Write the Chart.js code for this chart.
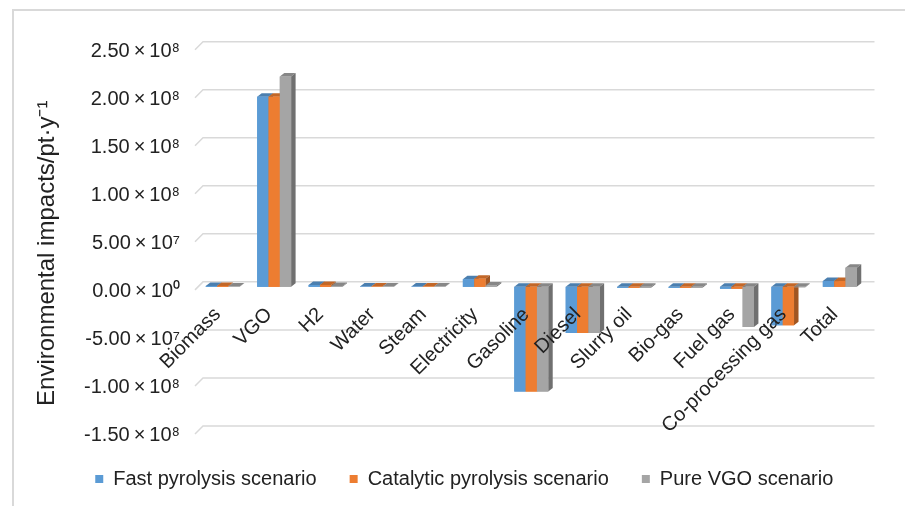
<!DOCTYPE html>
<html><head><meta charset="utf-8">
<script src="https://cdn.jsdelivr.net/npm/chart.js@4.4.1/dist/chart.umd.min.js"></script>
<style>html,body{margin:0;padding:0;background:#fff}canvas{display:block}</style>
</head><body>
<canvas id="c" width="905" height="506"></canvas>
<script>
const categories = ['Biomass','VGO','H2','Water','Steam','Electricity','Gasoline','Diesel','Slurry oil','Bio-gas','Fuel gas','Co-processing gas','Total'];
const fastPyrolysis      = [1.0e6, 1.98e8, 2.0e6, 5e5, 5e5, 8.0e6, -1.09e8, -4.8e7, -1.0e6, -1.0e6, -2.0e6, -4.0e7, 6.0e6];
const catalyticPyrolysis = [1.0e6, 1.98e8, 2.0e6, 5e5, 5e5, 8.5e6, -1.09e8, -4.8e7, -1.0e6, -1.0e6, -2.0e6, -4.0e7, 6.0e6];
const pureVGO            = [5e5, 2.19e8, 1.0e6, 5e5, 5e5, 1.5e6, -1.09e8, -4.8e7, -1.0e6, -1.0e6, -4.17e7, -5e5, 2.0e7];
const seriesNames = ['Fast pyrolysis scenario','Catalytic pyrolysis scenario','Pure VGO scenario'];
const seriesColors = ['#5b9bd5','#ed7d31','#a5a5a5'];
const yTickValues = [-1.5e8, -1.0e8, -5.0e7, 0, 5.0e7, 1.0e8, 1.5e8, 2.0e8, 2.5e8];
const yTitle = 'Environmental impacts/pt\u00b7y\u207b\u00b9';

const FONT = "'Liberation Sans', Arial, sans-serif";
const sup = {'0':'\u2070','1':'\u00b9','2':'\u00b2','3':'\u00b3','4':'\u2074','5':'\u2075','6':'\u2076','7':'\u2077','8':'\u2078','9':'\u2079','-':'\u207b'};
function sciLabel(v){
  if (Math.abs(v) < 1) return '0.00\u2009\u00d7\u200910' + sup['0'];
  const e = Math.floor(Math.log10(Math.abs(v)) + 1e-9);
  const m = v / Math.pow(10, e);
  return m.toFixed(2) + '\u2009\u00d7\u200910' + String(e).split('').map(c => sup[c]).join('');
}
function shade(hex, f){
  const n = parseInt(hex.slice(1), 16);
  const r = Math.round(((n >> 16) & 255) * f), g = Math.round(((n >> 8) & 255) * f), b = Math.round((n & 255) * f);
  return 'rgb(' + r + ',' + g + ',' + b + ')';
}

const look3d = {
  id: 'look3d',
  beforeDraw(chart){
    const ctx = chart.ctx;
    ctx.save();
    ctx.strokeStyle = '#d9d9d9'; ctx.lineWidth = 2;
    ctx.beginPath(); ctx.moveTo(13, 506); ctx.lineTo(13, 10); ctx.lineTo(905, 10); ctx.stroke();
    ctx.restore();
  },
  beforeDatasetsDraw(chart){
    const {ctx, chartArea: a, scales: {y}} = chart;
    ctx.save();
    ctx.strokeStyle = '#d9d9d9'; ctx.lineWidth = 1.5;
    y.ticks.forEach(t => {
      const py = y.getPixelForValue(t.value);
      ctx.beginPath();
      ctx.moveTo(a.left - 2, py + 3);
      ctx.lineTo(a.left + 6, py - 5);
      ctx.lineTo(a.right + 9, py - 5);
      ctx.stroke();
    });
    ctx.restore();
  },
  afterDatasetsDraw(chart){
    const ctx = chart.ctx;
    const dx = 4.5, dy = -3.5;
    ctx.save();
    chart.data.datasets.forEach((ds, di) => {
      const meta = chart.getDatasetMeta(di);
      const col = ds.backgroundColor;
      meta.data.forEach(bar => {
        const p = bar.getProps(['x','y','base','width'], true);
        const l = p.x - p.width / 2, r = p.x + p.width / 2;
        const t = Math.min(p.y, p.base), b = Math.max(p.y, p.base);
        ctx.fillStyle = shade(col, 0.82);
        ctx.beginPath();
        ctx.moveTo(l, t); ctx.lineTo(l + dx, t + dy); ctx.lineTo(r + dx, t + dy); ctx.lineTo(r, t); ctx.closePath(); ctx.fill();
        ctx.fillStyle = shade(col, 0.68);
        ctx.beginPath();
        ctx.moveTo(r, t); ctx.lineTo(r + dx, t + dy); ctx.lineTo(r + dx, b + dy); ctx.lineTo(r, b); ctx.closePath(); ctx.fill();
        ctx.fillStyle = col;
        ctx.fillRect(l, t, r - l, b - t);
      });
    });
    ctx.restore();
  },
  afterUpdate(chart){
    const lg = chart.legend;
    if (lg) {
      lg.left += 15; lg.right += 15;
      lg.top = 436; lg.bottom = 506;
    }
  }
};

new Chart(document.getElementById('c'), {
  type: 'bar',
  data: {
    labels: categories,
    datasets: [
      {label: seriesNames[0], data: fastPyrolysis, backgroundColor: seriesColors[0]},
      {label: seriesNames[1], data: catalyticPyrolysis, backgroundColor: seriesColors[1]},
      {label: seriesNames[2], data: pureVGO, backgroundColor: seriesColors[2]}
    ]
  },
  options: {
    responsive: false,
    animation: false,
    categoryPercentage: 0.66,
    barPercentage: 1,
    layout: {padding: {left: 33, right: 39.5, top: 46.7, bottom: 26.2}},
    scales: {
      x: {
        type: 'category',
        position: {y: 0},
        grid: {display: false, drawTicks: false},
        border: {display: false},
        ticks: {z: 1, autoSkip: false, minRotation: 45, maxRotation: 45, padding: 16, labelOffset: -5,
                font: {family: FONT, size: 20}, color: '#222'}
      },
      y: {
        min: -1.8e8, max: 2.5e8,
        grid: {display: false, drawTicks: false},
        border: {display: false},
        afterFit(s){ s.width = 164; },
        afterBuildTicks(s){ s.ticks = yTickValues.map(v => ({value: v})); },
        ticks: {padding: 17, labelOffset: 5, callback: v => sciLabel(v),
                font: {family: FONT, size: 20}, color: '#222'},
        title: {display: true, text: yTitle, padding: {top: 0, bottom: 0},
                font: {family: FONT, size: 24}, color: '#222'}
      }
    },
    plugins: {
      legend: {
        position: 'bottom',
        maxHeight: 20,
        labels: {boxWidth: 8, boxHeight: 8, padding: 33, font: {family: FONT, size: 20}, color: '#222'}
      },
      tooltip: {enabled: false}
    }
  },
  plugins: [look3d]
});
</script>
</body></html>
